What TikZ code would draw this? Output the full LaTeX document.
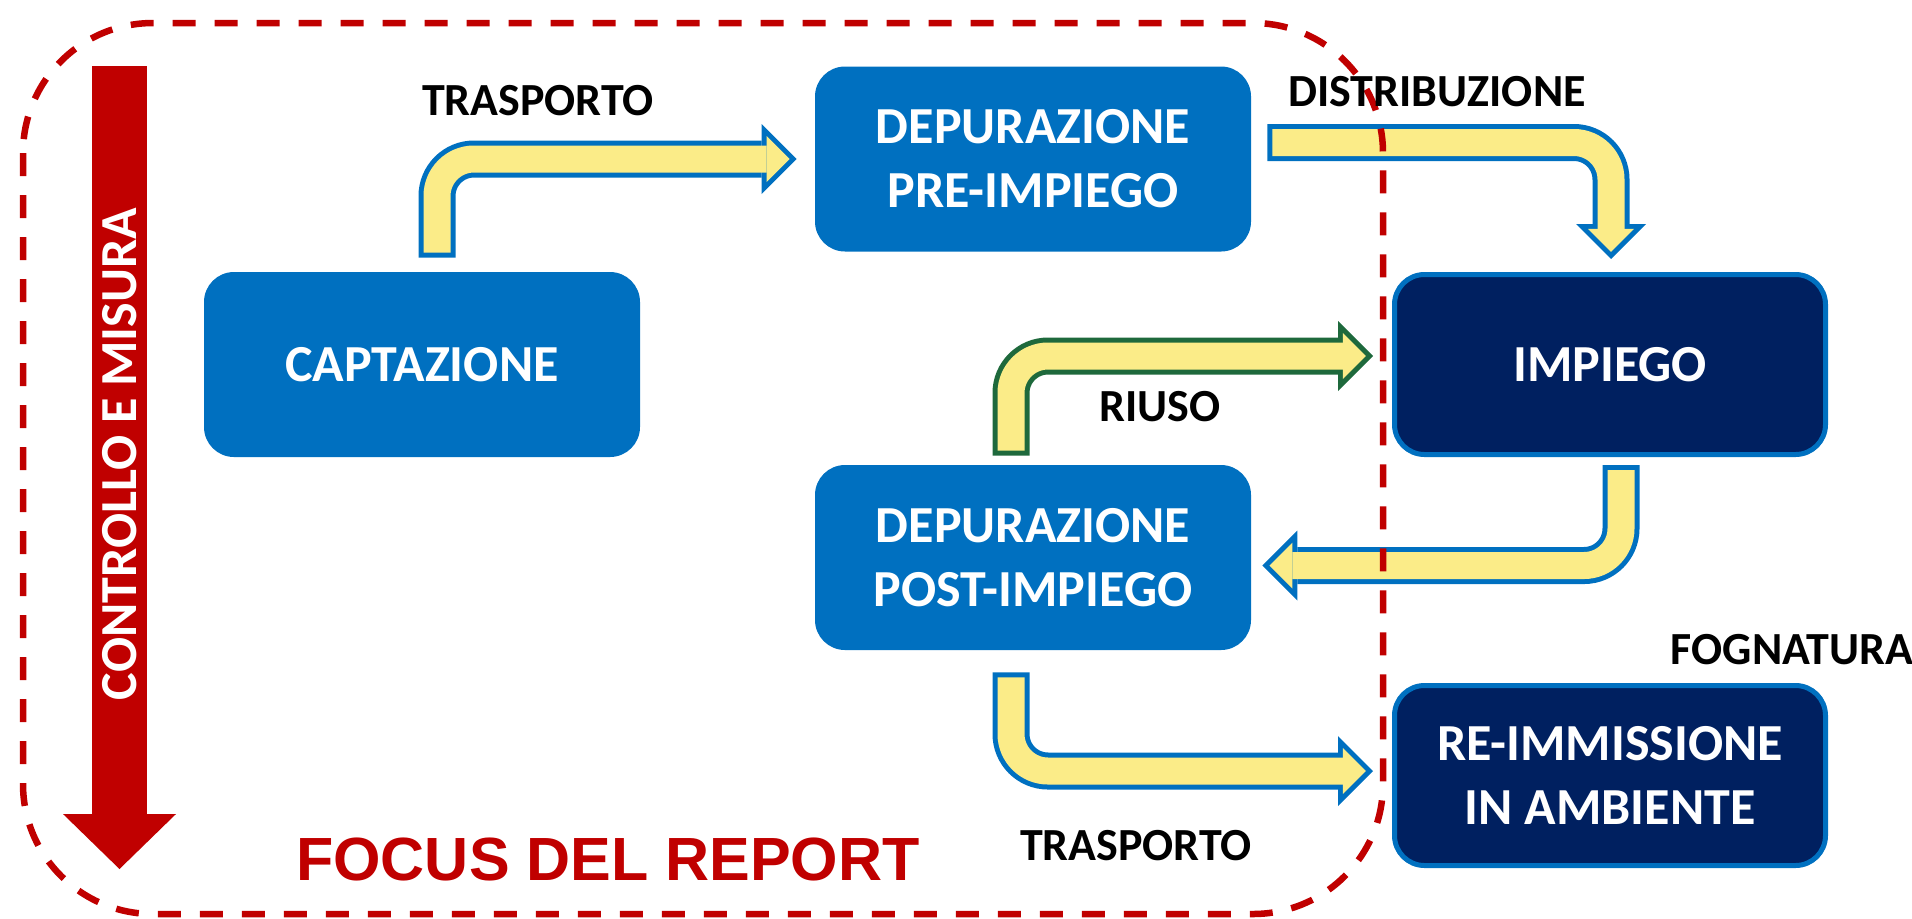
\documentclass[tikz,border=0pt]{standalone}
\usepackage{fontspec}
\setmainfont{Carlito}
\newfontfamily\arialfont{Liberation Sans}
\usetikzlibrary{arrows.meta,calc}

\definecolor{boxblue}{RGB}{0,112,192}
\definecolor{navy}{RGB}{0,32,96}
\definecolor{pipeyellow}{RGB}{251,236,136}
\definecolor{reusegreen}{RGB}{30,105,60}
\definecolor{focusred}{RGB}{192,0,0}

\tikzstyle{treat} = [rectangle, rounded corners=15pt, text centered, align=center, fill=boxblue, text=white, minimum width=218pt, minimum height=92.5pt, font=\fontsize{26}{32}\selectfont\bfseries]
\tikzstyle{final} = [treat, fill=navy, draw=boxblue, line width=2.5pt, minimum width=215.5pt, minimum height=90pt]
\tikzstyle{tag} = [anchor=base, font=\fontsize{23}{27}\selectfont\bfseries]
\tikzstyle{frame} = [draw=focusred, line width=3.25pt, dash pattern=on 11.5pt off 9.5pt, rounded corners=65pt]
\tikzstyle{ctrl} = [draw=focusred, line width=27.5pt, -{Triangle[width=56.5pt, length=27.5pt, line width=0pt]}]
\tikzset{pipe/.style={line width=13.5pt, draw=pipeyellow, rounded corners=18.5pt, shorten <=2.5pt, shorten >=3.54pt,
    -{Triangle[width=23pt, length=11.5pt, line width=0pt]},
    preaction={draw=#1, line width=18.5pt, shorten <=0pt, shorten >=0pt, -{Triangle[width=35pt, length=17.5pt, line width=0pt]}}},
  pipe/.default=boxblue}

\begin{document}
\begin{tikzpicture}[x=0.5pt, y=-0.5pt, node distance=199.25pt]
  \useasboundingbox (0,0) rectangle (1912,918);

  % stages
  \node (capt) [treat] at (422,364.5) {CAPTAZIONE};
  \node (dpre) [treat] at (1033,159) {DEPURAZIONE\\PRE-IMPIEGO};
  \node (dpost) [treat, below of=dpre] {DEPURAZIONE\\POST-IMPIEGO};
  \node (imp) [final] at (1610,364.5) {IMPIEGO};
  \node (reimm) [final, below of=imp, yshift=-6.25pt] {RE-IMMISSIONE\\IN AMBIENTE};

  % water flows
  \draw [pipe] ($(capt.north)+(15,-14)$) |- ($(dpre.west)+(-18,0)$);
  \draw [pipe] ($(dpre.east)+(16,-16.5)$) -| ($(imp.north)+(1,-13)$);
  \draw [pipe=reusegreen] ($(dpost.north)+(-22,-9)$) |- ($(imp.west)+(-19,-8.5)$);
  \draw [pipe] ($(imp.south)+(11,8)$) |- ($(dpost.east)+(11,8)$);
  \draw [pipe] ($(dpost.south)+(-22,22)$) |- ($(reimm.west)+(-19,-4.5)$);

  % focus of the report
  \draw [frame] (23,23) rectangle (1383,914);

  \node (trtop) [tag] at (538,115) {TRASPORTO};
  \node (distr) [tag] at (1437,106) {DISTRIBUZIONE};
  \node (riuso) [tag] at (1160,421) {RIUSO};
  \node (trbot) [tag] at (1136,860) {TRASPORTO};
  \node (fogn) [tag] at (1792,664) {FOGNATURA};
  \node (focus) [anchor=base, text=focusred, font=\arialfont\fontsize{30.5}{36}\selectfont\bfseries] at (608,880) {FOCUS DEL REPORT};

  % control and measure
  \coordinate (ctrltop) at (119.5,66);
  \coordinate (ctrlend) at (119.5,869);
  \draw [ctrl] (ctrltop) -- (ctrlend);
  \node (ctrltext) [rotate=90, text=white, font=\fontsize{26}{30}\selectfont\bfseries] at (120,454) {CONTROLLO E MISURA};
\end{tikzpicture}
\end{document}
